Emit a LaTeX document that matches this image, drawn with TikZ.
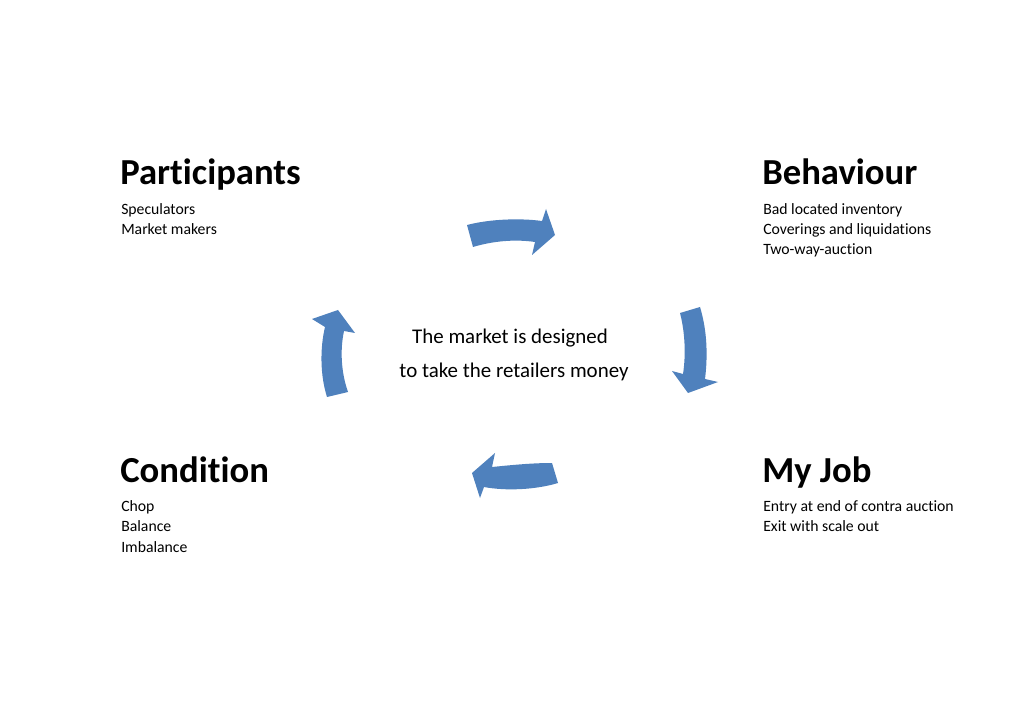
\documentclass[tikz,border=0pt]{standalone}
\usepackage{fontspec}
\setmainfont{Carlito}[Ligatures=NoCommon]
\definecolor{cycleblue}{HTML}{4F81BD}

\begin{document}
\begin{tikzpicture}
  [x=0.75pt,y=-0.75pt,every node/.style={inner sep=0pt,anchor=base west},
   heading/.style={font=\fontsize{27.5}{31}\selectfont\bfseries},
   item/.style={font=\fontsize{11.8}{14}\selectfont},
   centre/.style={anchor=base,font=\fontsize{15.7}{18}\selectfont},
   arrowfill/.style={fill=cycleblue}]
  \useasboundingbox [fill=white] (0,0) rectangle (1029,709);

  \node [heading] (h1) at (120,184.5) {Participants};
  \node [heading] (h2) at (762,184.5) {Behaviour};
  \node [heading] (h3) at (120,482.5) {Condition};
  \node [heading] (h4) at (762,482.5) {My Job};

  \foreach \n/\x/\y/\t in {p1/121/214.5/Speculators,p2/121/234.5/Market makers,
      b1/763/214.5/Bad located inventory,b2/763/234.5/Coverings and liquidations,
      b3/763/255/Two-way-auction,
      c1/121/511.5/Chop,c2/121/531.5/Balance,c3/121/552/Imbalance,
      j1/763/511.5/Entry at end of contra auction,j2/763/531.5/Exit with scale out}
    \node [item] (\n) at (\x,\y) {\t};

  \node [centre] (m1) at (510,344) {The market is designed};
  \node [centre] (m2) at (514,378) {to take the retailers money};

  % top
  \fill [arrowfill] (467,225) .. controls (490,219) and (520,218) .. (542,221)
    -- (546,209) -- (555,235) -- (532,255) -- (535,242)
    .. controls (515,239) and (493,241) .. (473,247) -- cycle;
  % right
  \fill [arrowfill] (680,313) -- (700,307) .. controls (707,330) and (708,355) .. (705,379)
    -- (718,382) -- (688,393) -- (672,371) -- (683,374)
    .. controls (686,355) and (685,332) .. (680,313) -- cycle;
  % bottom
  \fill [arrowfill] (552,463) -- (558,483) .. controls (535,490) and (505,491) .. (484,487)
    -- (480,498) -- (472,473) -- (495,453) -- (492,467)
    .. controls (512,465) and (532,463) .. (552,463) -- cycle;
  % left
  \fill [arrowfill] (327,397) .. controls (320,375) and (320,348) .. (325,327)
    -- (312,319) -- (338,310) -- (355,333) -- (344,331)
    .. controls (340,350) and (341,372) .. (348,392) -- cycle;
\end{tikzpicture}
\end{document}
